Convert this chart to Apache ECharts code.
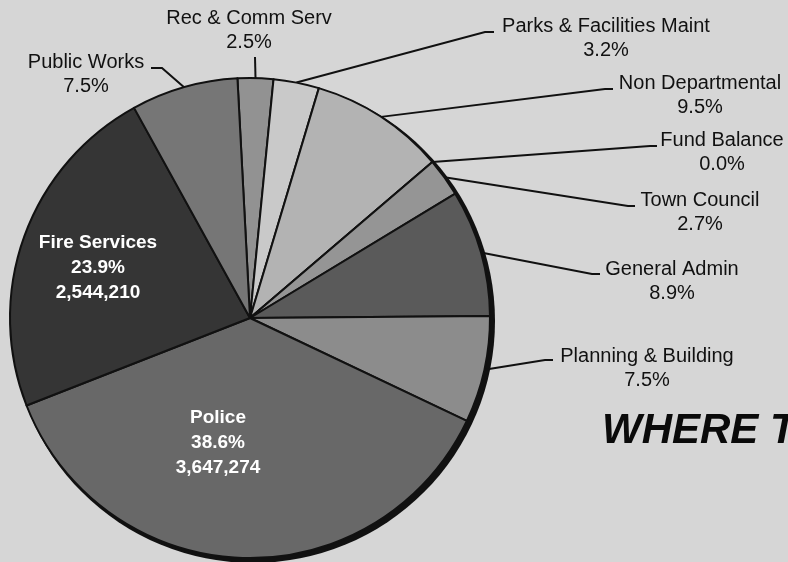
<!DOCTYPE html>
<html>
<head>
<meta charset="utf-8">
<title>Where the money goes</title>
<script src="https://cdn.jsdelivr.net/npm/echarts@6/dist/echarts.min.js"></script>
<style>
  html, body { margin: 0; padding: 0; background: #d6d6d6; }
  #chart { width: 788px; height: 562px; }
</style>
</head>
<body>
<div id="chart"></div>
<script>
// Budget departments, listed clockwise from the top of the pie
const categories = [
  'Rec & Comm Serv', 'Parks & Facilities Maint', 'Non Departmental', 'Fund Balance',
  'Town Council', 'General Admin', 'Planning & Building', 'Police', 'Fire Services', 'Public Works'
];
// Share of the budget, in percent, as printed on each slice
const percents = [2.5, 3.2, 9.5, 0.0, 2.7, 8.9, 7.5, 38.6, 23.9, 7.5];
// Dollar amounts printed on the two largest slices
const amounts = [null, null, null, null, null, null, null, 3647274, 2544210, null];
const titleText = 'WHERE T';

// Styling / layout tables
const sliceColors = ['#929292', '#c9c9c9', '#b3b3b3', '#a0a0a0', '#959595',
                     '#5a5a5a', '#8c8c8c', '#686868', '#353535', '#767676'];
const insideLabel = [false, false, false, false, false, false, false, true, true, false];
// label centre positions
const labelSpots = [[249, 30], [606, 38], [700, 95], [722, 152], [700, 212],
                    [672, 281], [647, 368], [218, 443], [98, 268], [86, 74]];
// leader line bend and end points (start point comes from the slice)
const leaderBends = [
  [[255, 57], [255, 57]],
  [[485, 32], [494, 32]],
  [[605, 89], [613, 89]],
  [[650, 146], [657, 146]],
  [[628, 206], [635, 206]],
  [[592, 274], [600, 274]],
  [[545, 360], [553, 360]],
  null, null,
  [[162, 68], [151, 68]]
];

const FONT = '"Liberation Sans", Arial, sans-serif';

const pieData = categories.map((name, i) => {
  const item = {
    name: name,
    value: percents[i],
    itemStyle: { color: sliceColors[i] }
  };
  if (insideLabel[i]) {
    item.label = {
      color: '#ffffff', fontWeight: 'bold', fontSize: 19, lineHeight: 25,
      formatter: p => p.name + '\n' + p.value.toFixed(1) + '%\n' +
        amounts[p.dataIndex].toLocaleString('en-US')
    };
    item.labelLine = { show: false };
  }
  return item;
});

const chart = echarts.init(document.getElementById('chart'), null, { renderer: 'canvas' });
chart.setOption({
  backgroundColor: '#d6d6d6',
  animation: false,
  graphic: [{
    type: 'text',
    left: 602,
    top: 410,
    style: {
      text: titleText,
      font: 'italic bold 42px ' + FONT,
      fill: '#0a0a0a'
    }
  }],
  series: [
    {
      // dark rim that gives the pie its raised edge on the right and bottom
      type: 'pie',
      silent: true,
      z: 1,
      center: [253, 321],
      radius: 242,
      label: { show: false },
      labelLine: { show: false },
      data: [{ value: 1, itemStyle: { color: '#111111' } }]
    },
    {
      type: 'pie',
      z: 2,
      center: [250, 318],
      radius: 240,
      startAngle: 93,
      clockwise: true,
      avoidLabelOverlap: false,
      itemStyle: { borderColor: '#111111', borderWidth: 2 },
      label: {
        show: true,
        position: 'outside',
        fontFamily: FONT,
        fontSize: 20,
        lineHeight: 24,
        color: '#111111',
        align: 'center',
        formatter: p => p.name + '\n' + p.value.toFixed(1) + '%'
      },
      labelLine: {
        show: true,
        length: 20,
        length2: 10,
        lineStyle: { color: '#111111', width: 2 }
      },
      emphasis: { disabled: true },
      labelLayout: function (params) {
        const i = params.dataIndex;
        const spot = labelSpots[i];
        const out = { x: spot[0], y: spot[1], align: 'center', verticalAlign: 'middle' };
        const bend = leaderBends[i];
        if (bend && params.labelLinePoints) {
          const a = params.labelLinePoints[0];
          out.labelLinePoints = [[a[0], a[1]], bend[0].slice(), bend[1].slice()];
        }
        return out;
      },
      data: pieData
    }
  ]
});
</script>
</body>
</html>
